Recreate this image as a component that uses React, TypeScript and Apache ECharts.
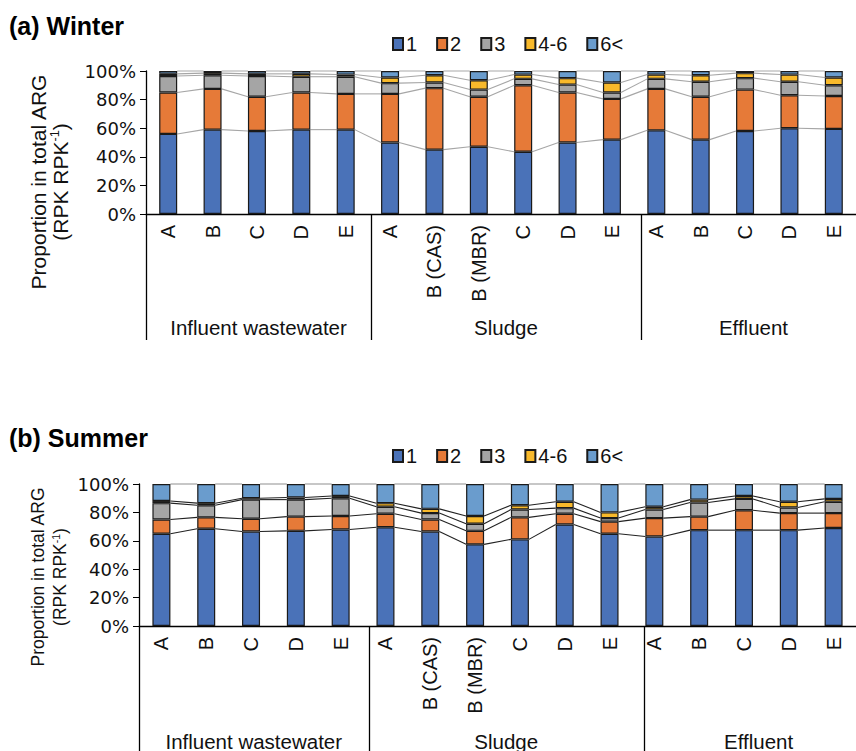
import React, { useEffect, useRef } from "react";
import * as echarts from "echarts";

const CATEGORIES = ["A", "B", "C", "D", "E", "A", "B (CAS)", "B (MBR)", "C", "D", "E", "A", "B", "C", "D", "E"];
const GROUPS = ["Influent wastewater", "Sludge", "Effluent"];
const GROUP_SIZES = [5, 6, 5];
const SERIES_NAMES = ["1", "2", "3", "4-6", "6<"];
const COLORS = ["#4A72B8", "#E67A38", "#A5A5A5", "#F8B92B", "#6A9CCD"];
const Y_TICKS = [0, 20, 40, 60, 80, 100];

// Winter (%)
const W1 = [56, 59, 58, 59, 59, 50, 45, 47, 43.5, 50, 52, 58.5, 52, 58, 60, 59.5];
const W2 = [29, 28.5, 24, 26, 25, 34, 43, 35, 46.5, 35, 28.5, 29, 30, 29, 23, 23];
const W3 = [11.5, 9.5, 14.5, 11, 12, 7.5, 4, 5, 4.5, 5.5, 4.5, 7, 10.5, 8, 9.5, 7.5];
const W46 = [1.5, 1.5, 1.5, 2, 1.5, 4, 5, 6.5, 3, 4.5, 7, 3, 4.5, 3.5, 5, 5.5];
const W6P = [2, 1.5, 2, 2, 2.5, 4.5, 3, 6.5, 2.5, 5, 8, 2.5, 3, 1.5, 2.5, 4.5];

// Summer (%)
const S1 = [65, 68.5, 66.5, 67, 68, 69.5, 66.5, 57.5, 61, 71.5, 65, 63, 67.5, 67.5, 67.5, 69];
const S2 = [10, 8, 9, 10, 9.5, 9.5, 8.5, 9.5, 15.5, 7.5, 8.5, 13, 9.5, 14, 12, 10.5];
const S3 = [11.5, 8.5, 13.5, 12, 12.5, 5, 4.5, 5, 5.5, 4, 2.5, 6, 10, 8, 4, 8];
const S46 = [1.5, 1.5, 1, 1.5, 1.5, 2.5, 3, 5.5, 3, 4.5, 4, 2, 2, 2, 4, 2];
const S6P = [12, 13.5, 10, 9.5, 8.5, 13.5, 17.5, 22.5, 15, 12.5, 20, 16, 11, 8.5, 12.5, 10.5];

const FONT = "Liberation Sans";
const BAR_W = 18;

type Panel = {
  key: string;
  left: number;
  top: number;
  height: number;
  catW: number;
  data: number[][];
  lineColor: string;
  topLineColor: string;
  title: string;
  titleY: number;
  legendTop: number;
  yLabelSize: number;
  yLabelCenter: number;
  sepBottom: number;
  groupY: number;
};

const PANELS: Panel[] = [
  {
    key: "w", left: 146, top: 71, height: 143, catW: 45,
    data: [W1, W2, W3, W46, W6P], lineColor: "#a6a6a6", topLineColor: "#b0b0b0",
    title: "(a) Winter", titleY: 28, legendTop: 29, yLabelSize: 21, yLabelCenter: 182,
    sepBottom: 340, groupY: 327,
  },
  {
    key: "s", left: 139, top: 484, height: 142, catW: 45.9,
    data: [S1, S2, S3, S46, S6P], lineColor: "#222", topLineColor: "#9a9a9a",
    title: "(b) Summer", titleY: 440, legendTop: 441, yLabelSize: 17.5, yLabelCenter: 577,
    sepBottom: 760, groupY: 741,
  },
];

function buildOption() {
  const grid: any[] = [];
  const xAxis: any[] = [];
  const yAxis: any[] = [];
  const series: any[] = [];
  const legend: any[] = [];
  const graphic: any[] = [];

  PANELS.forEach((p, pi) => {
    const width = p.catW * CATEGORIES.length;
    grid.push({ left: p.left, top: p.top, width, height: p.height, containLabel: false });
    xAxis.push({
      type: "category",
      gridIndex: pi,
      data: CATEGORIES,
      axisLine: { show: true, lineStyle: { color: "#000", width: 1.3 } },
      axisTick: { show: false },
      axisLabel: {
        rotate: 90,
        interval: 0,
        margin: 11,
        fontFamily: FONT,
        fontSize: 20,
        color: "#111",
      },
    });
    yAxis.push({
      type: "value",
      gridIndex: pi,
      min: 0,
      max: 100,
      interval: 20,
      axisLine: { show: true, lineStyle: { color: "#000", width: 1.3 } },
      axisTick: { show: true, length: 6, lineStyle: { color: "#000" } },
      splitLine: { show: false },
      axisLabel: {
        formatter: (v: number) => (Y_TICKS.includes(v) ? v + "%" : ""),
        fontFamily: "DejaVu Sans",
        fontSize: 18,
        color: "#111",
        margin: 10,
      },
    });

    p.data.forEach((arr, si) => {
      series.push({
        name: SERIES_NAMES[si],
        type: "bar",
        xAxisIndex: pi,
        yAxisIndex: pi,
        stack: p.key,
        barWidth: BAR_W,
        data: arr,
        itemStyle: { color: COLORS[si], borderColor: "#1a1a1a", borderWidth: 1.2 },
        z: 3,
      });
    });

    // series lines (cumulative levels) connecting bar edges
    const cum = CATEGORIES.map((_, i) => {
      let s = 0;
      return p.data.map((arr) => (s += arr[i]));
    });
    const lineData = CATEGORIES.slice(0, -1).map((_, i) => [i, ...cum[i], ...cum[i + 1]]);
    series.push({
      type: "custom",
      xAxisIndex: pi,
      yAxisIndex: pi,
      data: lineData,
      silent: true,
      z: 2,
      encode: { x: 0, y: 1 },
      renderItem: (params: any, api: any) => {
        const i = api.value(0);
        const children: any[] = [];
        for (let k = 1; k <= 5; k++) {
          const a = api.coord([i, api.value(k)]);
          const b = api.coord([i + 1, api.value(k + 5)]);
          children.push({
            type: "line",
            shape: { x1: a[0] + BAR_W / 2, y1: a[1], x2: b[0] - BAR_W / 2, y2: b[1] },
            style: { stroke: k === 5 ? p.topLineColor : p.lineColor, lineWidth: 1.1 },
          });
        }
        return { type: "group", children };
      },
    });

    legend.push({
      data: SERIES_NAMES,
      left: 387,
      top: p.legendTop,
      icon: "rect",
      itemWidth: 10,
      itemHeight: 12,
      itemGap: 19,
      textStyle: { fontFamily: FONT, fontSize: 20, color: "#111", padding: [0, 0, 0, -2] },
    });

    // titles
    graphic.push({
      type: "text",
      left: 9,
      top: p.titleY - 15,
      style: { text: p.title, fontFamily: FONT, fontWeight: "bold", fontSize: 25, fill: "#000" },
    });

    // y-axis title (two lines, rotated)
    graphic.push({
      type: "text",
      x: 38,
      y: p.yLabelCenter,
      rotation: Math.PI / 2,
      style: {
        text: "Proportion in total ARG",
        fontFamily: FONT,
        fontSize: p.yLabelSize,
        fill: "#111",
        align: "center",
        verticalAlign: "middle",
      },
    });
    graphic.push({
      type: "text",
      x: 60,
      y: p.yLabelCenter,
      rotation: Math.PI / 2,
      style: {
        text: "(RPK RPK{sup|-1})",
        fontFamily: FONT,
        fontSize: p.yLabelSize,
        fill: "#111",
        align: "center",
        verticalAlign: "middle",
        rich: {
          sup: { fontFamily: FONT, fontSize: p.yLabelSize * 0.6, fill: "#111", verticalAlign: "top", padding: [0, 0, p.yLabelSize * 0.5, 0] },
        },
      },
    });

    // group separators & group labels
    const axisY = p.top + p.height;
    let startIdx = 0;
    const seps = [0];
    GROUP_SIZES.forEach((n, gi) => {
      const x0 = p.left + startIdx * p.catW;
      const xc = x0 + (n * p.catW) / 2;
      graphic.push({
        type: "text",
        x: xc,
        y: p.groupY,
        style: {
          text: GROUPS[gi],
          fontFamily: FONT,
          fontSize: 20.5,
          fill: "#111",
          align: "center",
          verticalAlign: "middle",
        },
      });
      startIdx += n;
      if (gi < GROUP_SIZES.length - 1) seps.push(startIdx);
    });
    seps.forEach((idx) => {
      const x = Math.round(p.left + idx * p.catW) + 0.5;
      graphic.push({
        type: "line",
        shape: { x1: x, y1: axisY, x2: x, y2: p.sepBottom },
        style: { stroke: "#000", lineWidth: 1.3 },
      });
    });
  });

  return {
    animation: false,
    textStyle: { fontFamily: FONT },
    grid,
    xAxis,
    yAxis,
    legend,
    series,
    graphic,
  };
}

export default function App() {
  const ref = useRef<HTMLDivElement>(null);
  useEffect(() => {
    if (!ref.current) return;
    const chart = echarts.init(ref.current, undefined, { renderer: "svg" });
    chart.setOption(buildOption() as any);
    return () => chart.dispose();
  }, []);
  return (
    <div
      ref={ref}
      style={{ position: "absolute", left: 0, top: 0, width: 856, height: 751, background: "#fff" }}
    />
  );
}
